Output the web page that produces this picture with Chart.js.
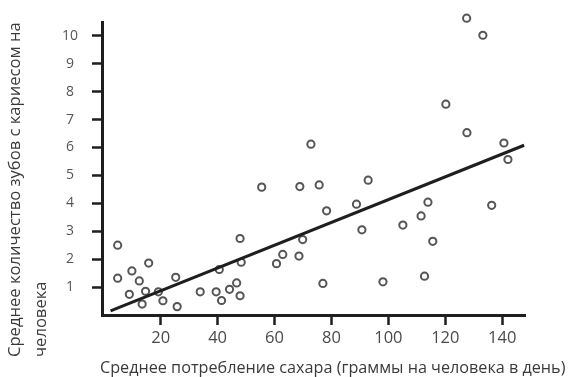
<!DOCTYPE html>
<html lang="ru">
<head>
<meta charset="utf-8">
<title>Сахар и кариес</title>
<script src="https://cdn.jsdelivr.net/npm/chart.js@4.4.1/dist/chart.umd.min.js"></script>
<style>
    html, body { margin: 0; padding: 0; background: #fff; }
    #wrap { width: 571px; height: 377px; }
</style>
</head>
<body>
<div id="wrap"><canvas id="chart" width="571" height="377"></canvas></div>
<script>
// Axis texts
const xTitle = 'Среднее потребление сахара (граммы на человека в день)';
const yTitleLines = ['Среднее количество зубов с кариесом на', 'человека'];

// Tick labels
const xTicks = [20, 40, 60, 80, 100, 120, 140];
const yTicks = [1, 2, 3, 4, 5, 6, 7, 8, 9, 10];

// Countries: sugar intake (g/person/day) and decayed teeth per person
const sugarIntake = [
    4.9, 4.9, 9.0, 9.9, 12.5, 13.5, 14.7, 15.8, 19.2, 20.8,
    25.3, 25.8, 33.9, 39.5, 40.6, 41.4, 44.2, 46.7, 47.9, 47.9,
    48.3, 55.5, 68.9, 75.7, 92.9, 78.3, 88.8, 90.7, 113.9, 111.5,
    105.1, 115.6, 69.9, 62.9, 60.7, 68.6, 77.0, 98.1, 112.7, 136.3,
    127.5, 133.2, 120.2, 127.6, 140.6, 142.0, 72.8
];
const decayedTeeth = [
    2.50, 1.32, 0.74, 1.58, 1.22, 0.39, 0.85, 1.86, 0.83, 0.51,
    1.35, 0.30, 0.83, 0.83, 1.63, 0.52, 0.92, 1.15, 0.69, 2.74,
    1.89, 4.58, 4.60, 4.66, 4.83, 3.73, 3.97, 3.05, 4.04, 3.55,
    3.22, 2.64, 2.70, 2.17, 1.84, 2.11, 1.13, 1.19, 1.39, 3.93,
    10.63, 10.02, 7.55, 6.53, 6.16, 5.57, 6.12
];

// Fitted line end points
const trendX = [2.4, 147.7];
const trendY = [0.15, 6.08];

const axisColor = '#1e1e1e';
const fontFamily = "'Open Sans', 'DejaVu Sans', sans-serif";

/**
 * Draw the two axis titles (y title is left aligned, two lines)
 */
const axisTitles = {
    id: 'axisTitles',
    afterDraw(chart) {
        const ctx = chart.ctx;
        ctx.save();
        ctx.fillStyle = '#3a3a3a';
        ctx.font = '16.2px ' + fontFamily;
        ctx.textBaseline = 'alphabetic';

        ctx.textAlign = 'left';
        ctx.fillText(xTitle, 100, 373);

        ctx.font = '16.6px ' + fontFamily;
        const baselines = [20, 46];
        yTitleLines.forEach((line, i) => {
            ctx.save();
            ctx.translate(baselines[i], 357);
            ctx.rotate(-Math.PI / 2);
            ctx.fillText(line, 0, 0);
            ctx.restore();
        });
        ctx.restore();
    }
};

const points = sugarIntake.map((x, i) => ({ x: x, y: decayedTeeth[i] }));
const trend = trendX.map((x, i) => ({ x: x, y: trendY[i] }));

new Chart(document.getElementById('chart'), {
    type: 'scatter',
    data: {
        datasets: [
            {
                data: trend,
                showLine: true,
                borderColor: axisColor,
                borderWidth: 3,
                pointRadius: 0,
                clip: false
            },
            {
                data: points,
                pointRadius: 3.6,
                pointBorderWidth: 2,
                pointBorderColor: '#555',
                pointBackgroundColor: '#fff',
                clip: false
            }
        ]
    },
    options: {
        responsive: false,
        animation: false,
        layout: {
            padding: { left: 0, right: 46, top: 21, bottom: 0 }
        },
        plugins: {
            legend: { display: false },
            tooltip: { enabled: false }
        },
        scales: {
            x: {
                type: 'linear',
                min: -0.6,
                max: 148,
                afterBuildTicks: scale => { scale.ticks = xTicks.map(v => ({ value: v })); },
                afterFit: scale => { scale.height = 62; },
                grid: {
                    drawOnChartArea: false,
                    drawTicks: true,
                    tickLength: 10,
                    tickWidth: 2.5,
                    tickColor: axisColor
                },
                border: { display: true, color: axisColor, width: 3 },
                ticks: {
                    autoSkip: false,
                    maxRotation: 0,
                    padding: 3,
                    color: '#4a4a4a',
                    font: { family: fontFamily, size: 16.5 }
                }
            },
            y: {
                type: 'linear',
                min: 0,
                max: 10.48,
                afterBuildTicks: scale => { scale.ticks = yTicks.map(v => ({ value: v })); },
                afterFit: scale => { scale.width = 102; },
                grid: {
                    drawOnChartArea: false,
                    drawTicks: true,
                    tickLength: 10,
                    tickWidth: 2.5,
                    tickColor: axisColor
                },
                border: { display: true, color: axisColor, width: 3 },
                ticks: {
                    autoSkip: false,
                    crossAlign: 'center',
                    padding: 14,
                    color: '#555',
                    font: { family: fontFamily, size: 14 }
                }
            }
        }
    },
    plugins: [axisTitles]
});
</script>
</body>
</html>
